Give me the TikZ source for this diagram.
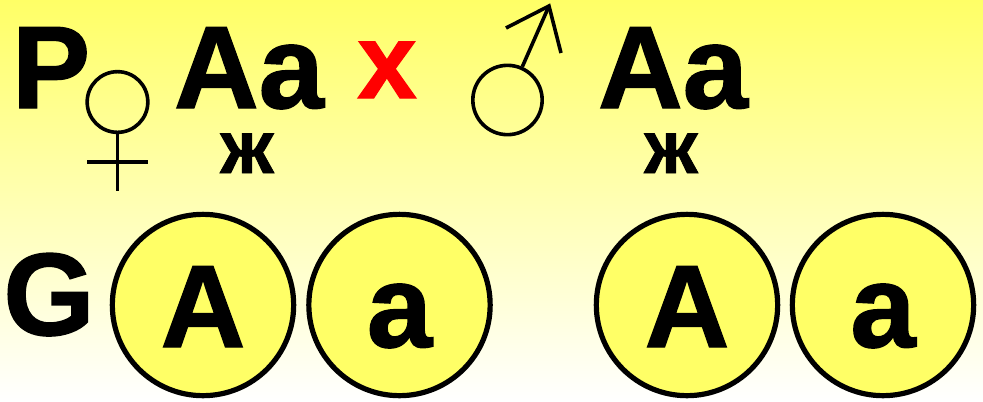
\documentclass[tikz,border=0pt]{standalone}
\usepackage{fontspec}
\setmainfont[BoldFeatures={FakeBold=1.2}]{Liberation Sans}
\usetikzlibrary{
  arrows.meta,
  positioning
}
\definecolor{bgyellow}{HTML}{FFFF66}
\definecolor{bgpale}{HTML}{FFFFFF}
\definecolor{crossred}{HTML}{FF0000}

\begin{document}
\begin{tikzpicture}[
  x=0.75pt, y=-0.75pt,
  biglabel/.style={
    anchor=base, inner sep=0pt,
    font=\fontsize{88}{88}\selectfont\bfseries, text=black
  },
  smallmark/.style={
    anchor=base, inner sep=0pt,
    font=\fontsize{56}{56}\selectfont\bfseries, text=black
  },
  gamete/.style={
    circle, draw=black, fill=bgyellow, line width=3.9pt,
    minimum size=136pt, inner sep=0pt,
    text height=63pt, text depth=0pt,
    font=\fontsize{88}{88}\selectfont\bfseries, text=black
  },
  sexring/.style={
    circle, draw=black, line width=2.7pt, inner sep=0pt
  },
  sexline/.style={
    draw=black, line width=2.7pt
  }
]

\useasboundingbox (0,0) rectangle (983,401);
\shade[top color=bgyellow, bottom color=bgpale] (0,0) rectangle (983,401);

% parents
\node[biglabel] (labelP) at (51,108) {P};
\node[biglabel] (genoF) at (249,108) {Aa};
\node[biglabel, font=\fontsize{80}{80}\selectfont\bfseries, text=crossred] (crossX) at (387,98) {х};
\node[biglabel] (genoM) at (673,108) {Aa};
\node[smallmark] (markF) at (247,173) {ж};
\node[smallmark] (markM) at (671,173) {ж};

% female sign
\node[sexring, minimum size=45.5pt] (venus) at (117.5,102) {};
\coordinate (venusEnd) at (117.5,191);
\coordinate (barL) at (87,162);
\coordinate (barR) at (148,162);
\draw[sexline] (venus.south) -- (venusEnd);
\draw[sexline] (barL) -- (barR);

% male sign
\node[sexring, minimum size=52pt] (mars) at (507.5,100) {};
\coordinate (marsTip) at (549,6);
\coordinate (barbL) at (506,28);
\coordinate (barbR) at (561,53);
\draw[sexline] (mars.66) -- (marsTip);
\draw[sexline, line join=miter] (barbL) -- (marsTip) -- (barbR);

% gametes
\node[biglabel] (labelG) at (49,335) {G};
\node[gamete] (gamA1) at (203,305) {A};
\node[gamete] (gama1) at (399.5,305) {a};
\node[gamete] (gamA2) at (687,305) {A};
\node[gamete] (gama2) at (883,305) {a};

\end{tikzpicture}
\end{document}
